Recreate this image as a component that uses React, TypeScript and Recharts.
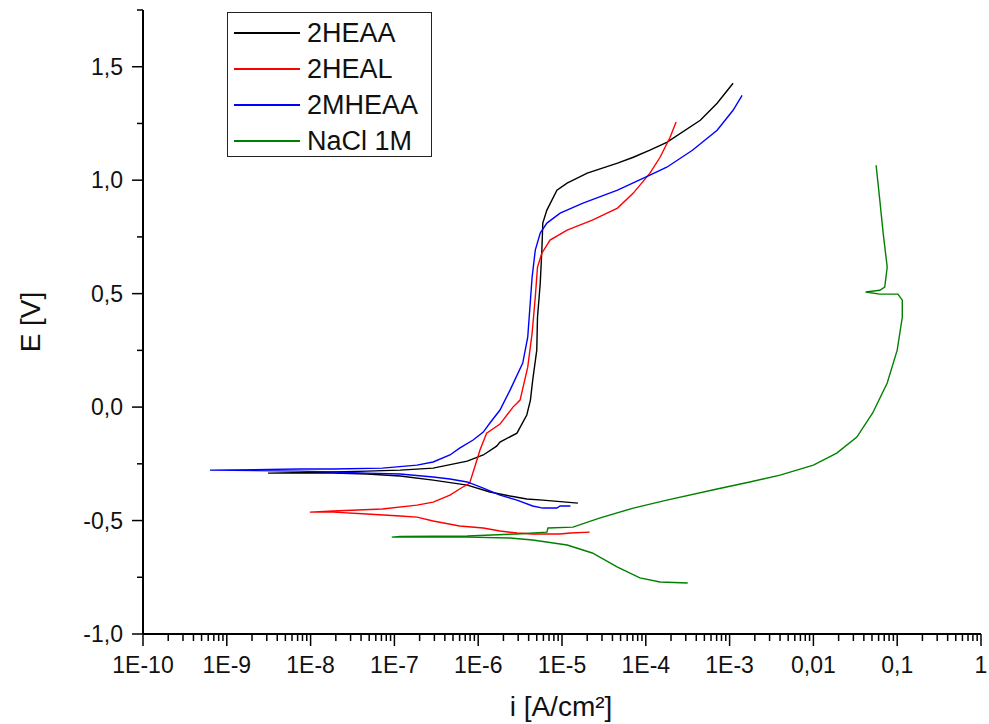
import { Line, LineChart, XAxis, YAxis } from 'recharts'

// current density i [A/cm²] and potential E [V]
// each branch runs cathodic end -> Ecorr -> anodic end
const heaaI = [1.55e-5, 5.9e-6, 3.8e-6, 2.4e-6, 1.38e-6, 7.4e-7, 2.9e-7, 1.17e-7, 4.7e-8, 1.86e-8, 3.1e-9,
  1.86e-8, 4.7e-8, 1.17e-7, 2.9e-7, 7.4e-7, 1.15e-6, 1.66e-6, 1.82e-6, 2.9e-6, 3.8e-6, 4.2e-6, 4.47e-6, 5.0e-6,
  5.1e-6, 5.5e-6, 5.75e-6, 5.9e-6, 6.6e-6, 8.7e-6, 1.15e-5, 2.0e-5, 4.6e-5, 7.1e-5, 1.12e-4, 1.78e-4, 4.47e-4,
  7.1e-4, 1.1e-3]
const heaaE = [-0.423, -0.41, -0.405, -0.392, -0.374, -0.344, -0.322, -0.304, -0.295, -0.291, -0.291,
  -0.286, -0.282, -0.278, -0.269, -0.238, -0.211, -0.172, -0.154, -0.115, -0.035, 0.031, 0.119, 0.251,
  0.396, 0.546, 0.692, 0.811, 0.868, 0.956, 0.987, 1.031, 1.075, 1.101, 1.132, 1.167, 1.264,
  1.339, 1.427]

const healI = [2.14e-5, 1.26e-5, 9.5e-6, 4.47e-6, 2.9e-6, 1.82e-6, 1.15e-6, 6.0e-7, 2.9e-7, 1.86e-7, 1.17e-7, 4.7e-8,
  1.86e-8, 9.8e-9, 1.86e-8, 7.2e-8, 1.86e-7, 2.9e-7, 4.6e-7, 6.0e-7, 7.9e-7, 9.1e-7, 1.05e-6, 1.26e-6, 1.82e-6,
  2.6e-6, 3.16e-6, 3.9e-6, 4.4e-6, 4.8e-6, 5.1e-6, 5.75e-6, 7.2e-6, 1.15e-5, 2.3e-5, 4.6e-5, 7.1e-5, 1.12e-4,
  1.48e-4, 1.95e-4, 2.3e-4]
const healE = [-0.551, -0.555, -0.559, -0.559, -0.555, -0.546, -0.533, -0.524, -0.502, -0.485, -0.48, -0.471,
  -0.463, -0.463, -0.458, -0.449, -0.432, -0.419, -0.388, -0.361, -0.335, -0.264, -0.189, -0.115, -0.075,
  0.0, 0.031, 0.176, 0.326, 0.485, 0.617, 0.678, 0.736, 0.78, 0.824, 0.877, 0.943, 1.031,
  1.101, 1.189, 1.256]

const mheaaI = [1.26e-5, 9.5e-6, 8.7e-6, 5.9e-6, 4.47e-6, 2.9e-6, 1.82e-6, 1.15e-6, 7.4e-7, 4.6e-7, 2.9e-7, 1.17e-7,
  4.7e-8, 1.86e-8, 7.4e-9, 6.3e-10, 7.4e-9, 1.86e-8, 7.2e-8, 1.86e-7, 2.9e-7, 4.6e-7, 6.0e-7, 8.7e-7, 1.15e-6,
  1.38e-6, 1.82e-6, 2.4e-6, 3.4e-6, 3.9e-6, 4.2e-6, 4.4e-6, 4.8e-6, 5.5e-6, 6.6e-6, 9.5e-6, 1.78e-5, 4.6e-5,
  1.12e-4, 1.78e-4, 3.6e-4, 7.1e-4, 1.1e-3, 1.41e-3]
const mheaaE = [-0.436, -0.436, -0.445, -0.445, -0.436, -0.41, -0.388, -0.357, -0.33, -0.317, -0.308, -0.295,
  -0.291, -0.286, -0.282, -0.278, -0.273, -0.273, -0.269, -0.256, -0.242, -0.211, -0.181, -0.145, -0.11,
  -0.07, -0.013, 0.075, 0.194, 0.308, 0.471, 0.573, 0.692, 0.767, 0.811, 0.855, 0.899, 0.956,
  1.022, 1.057, 1.132, 1.22, 1.308, 1.374]

const naclI = [3.16e-4, 1.48e-4, 8.5e-5, 4.6e-5, 2.3e-5, 1.15e-5, 4.47e-6, 2.4e-6, 7.4e-7, 1.17e-7, 9.3e-8,
  1.17e-7, 7.4e-7, 2.9e-6, 6.6e-6, 6.8e-6, 1.35e-5, 2.8e-5, 7.1e-5, 1.78e-4, 7.1e-4, 1.74e-3, 4.0e-3, 1.0e-2,
  1.9e-2, 3.3e-2, 5.1e-2, 7.6e-2, 0.1, 0.115, 0.115, 0.102, 6.2e-2, 4.2e-2, 6.2e-2, 7.1e-2, 7.6e-2, 6.8e-2,
  6.2e-2, 5.6e-2]
const naclE = [-0.775, -0.771, -0.753, -0.705, -0.643, -0.608, -0.586, -0.577, -0.573, -0.573, -0.573,
  -0.57, -0.568, -0.559, -0.551, -0.533, -0.529, -0.489, -0.445, -0.41, -0.361, -0.33, -0.3, -0.256,
  -0.203, -0.132, -0.026, 0.106, 0.251, 0.396, 0.471, 0.498, 0.498, 0.507, 0.515, 0.529, 0.617, 0.767,
  0.912, 1.066]

const seriesNames = ['2HEAA', '2HEAL', '2MHEAA', 'NaCl 1M']
const seriesColors = ['#000000', '#ff0000', '#0000ff', '#008000']

const xTickLabels = ['1E-10', '1E-9', '1E-8', '1E-7', '1E-6', '1E-5', '1E-4', '1E-3', '0,01', '0,1', '1']
const yMajor = [-1, -0.5, 0, 0.5, 1, 1.5]
const yTickLabels = ['-1,0', '-0,5', '0,0', '0,5', '1,0', '1,5']
const yMinor = [-0.75, -0.25, 0.25, 0.75, 1.25, 1.75]

const toPoints = (i: number[], e: number[]) => i.map((v, k) => ({ i: v, e: e[k] }))
const series = [
  toPoints(heaaI, heaaE),
  toPoints(healI, healE),
  toPoints(mheaaI, mheaaE),
  toPoints(naclI, naclE),
]

// decade ticks plus 2..9 minor ticks
const xTicks: number[] = []
for (let d = -10; d < 0; d++) {
  for (let m = 1; m < 10; m++) xTicks.push(m * Math.pow(10, d))
}
xTicks.push(1)

const FONT = '"Liberation Sans", Arial, sans-serif'

function XTick({ x, y, payload }: any) {
  const exp = Math.log10(payload.value)
  const major = Math.abs(exp - Math.round(exp)) < 1e-6
  return (
    <g>
      <line x1={x} x2={x} y1={y} y2={y + (major ? 12 : 7)} stroke="#000" strokeWidth={1.5} />
      {major && (
        <text x={x} y={y + 39} textAnchor="middle" fontSize={23} fontFamily={FONT} fill="#111">
          {xTickLabels[Math.round(exp) + 10]}
        </text>
      )}
    </g>
  )
}

function YTick({ x, y, payload }: any) {
  const idx = yMajor.indexOf(payload.value)
  const major = idx >= 0
  return (
    <g>
      <line x1={x - (major ? 11 : 6)} x2={x} y1={y} y2={y} stroke="#000" strokeWidth={1.5} />
      {major && (
        <text x={x - 20} y={y} dy="0.36em" textAnchor="end" fontSize={23} fontFamily={FONT} fill="#111">
          {yTickLabels[idx]}
        </text>
      )}
    </g>
  )
}

function LegendBox() {
  return (
    <div
      style={{
        position: 'absolute',
        left: 227,
        top: 12,
        width: 203,
        height: 143,
        border: '1.5px solid #222',
        background: '#fff',
        fontFamily: FONT,
      }}
    >
      {seriesNames.map((name, k) => (
        <div key={name} style={{ position: 'absolute', left: 0, top: 20 + k * 36 }}>
          <div style={{ position: 'absolute', left: 6, top: -1, width: 66, height: 1.5, background: seriesColors[k] }} />
          <div style={{ position: 'absolute', left: 79, top: -16, fontSize: 27, lineHeight: '32px', color: '#111', whiteSpace: 'nowrap' }}>
            {name}
          </div>
        </div>
      ))}
    </div>
  )
}

export default function App() {
  return (
    <div style={{ position: 'fixed', left: 0, top: 0, width: 989, height: 724, background: '#fff' }}>
      <LineChart width={989} height={724} margin={{ top: 10, right: 8, bottom: 0, left: 0 }}>
        <XAxis
          dataKey="i"
          type="number"
          scale="log"
          domain={[1e-10, 1]}
          allowDataOverflow
          ticks={xTicks}
          interval={0}
          tickSize={0}
          tickMargin={0}
          tickLine={false}
          tick={<XTick />}
          height={90}
          axisLine={{ stroke: '#000', strokeWidth: 2 }}
          label={{
            content: ({ viewBox }: any) => (
              <text x={viewBox.x + viewBox.width / 2 - 1} y={viewBox.y + 82} textAnchor="middle" fontSize={28} fontFamily={FONT} fill="#111">
                i [A/cm²]
              </text>
            ),
          }}
        />
        <YAxis
          dataKey="e"
          type="number"
          domain={[-1, 1.75]}
          allowDataOverflow
          ticks={[...yMajor, ...yMinor]}
          interval={0}
          tickSize={0}
          tickMargin={0}
          tickLine={false}
          tick={<YTick />}
          width={143}
          axisLine={{ stroke: '#000', strokeWidth: 2 }}
          label={{
            content: ({ viewBox }: any) => (
              <text
                x={40}
                y={viewBox.y + viewBox.height / 2}
                transform={`rotate(-90 40 ${viewBox.y + viewBox.height / 2})`}
                textAnchor="middle"
                fontSize={28}
                fontFamily={FONT}
                fill="#111"
              >
                E [V]
              </text>
            ),
          }}
        />
        {series.map((pts, k) => (
          <Line
            key={seriesNames[k]}
            name={seriesNames[k]}
            data={pts}
            dataKey="e"
            type="linear"
            stroke={seriesColors[k]}
            strokeWidth={1.4}
            dot={false}
            activeDot={false}
            isAnimationActive={false}
          />
        ))}
      </LineChart>
      <LegendBox />
    </div>
  )
}
